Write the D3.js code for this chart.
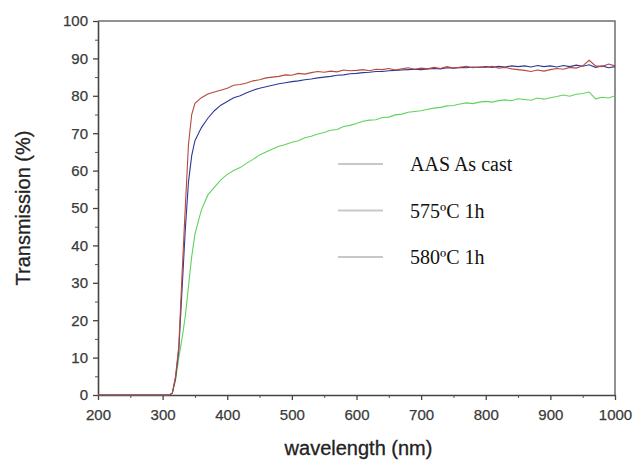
<!DOCTYPE html>
<html>
<head>
<meta charset="utf-8">
<script src="https://cdn.jsdelivr.net/npm/d3@7"></script>
<style>
  body { margin: 0; background: #fff; }
  svg { display: block; }
  .tick text { font-family: "Liberation Sans", Arial, sans-serif; font-size: 15px; fill: #3a3a3a; stroke: #3a3a3a; stroke-width: 0.25px; }
</style>
</head>
<body>
<svg id="chart" width="638" height="466"></svg>
<script>
// Wavelength grid (nm)
var wavelength = [200, 300, 310, 315, 320, 325, 330, 335, 340, 345, 350,
  360, 370, 380, 390, 400, 410, 420, 430, 440, 450, 460, 470, 480, 490,
  500, 510, 520, 530, 540, 550, 560, 570, 580, 590, 600, 610, 620, 630, 640,
  650, 660, 670, 680, 690, 700, 710, 720, 730, 740, 750, 760, 770, 780, 790,
  800, 810, 820, 830, 840, 850, 860, 870, 880, 890, 900, 910, 920, 930, 940,
  950, 960, 970, 980, 990, 1000];

// Transmission (%)
var redSeries = [0, 0, 0, 0.5, 5, 13, 32, 50, 67, 75, 78,
  79.5, 80.5, 81, 81.5, 82, 82.8, 83, 83.4, 84, 84.3, 84.8, 85, 85.2, 85.6,
  85.5, 86, 85.8, 86.2, 86.5, 86.3, 86.6, 86.4, 86.9, 86.7, 86.8, 87, 86.7, 87.1, 87,
  87.3, 86.9, 87.2, 87.5, 87.1, 87.4, 87.2, 87.6, 87.3, 87.8, 87.4, 87.6, 87.9, 87.5, 87.7,
  87.6, 87.9, 87.4, 87.6, 87.2, 87, 86.8, 86.5, 86.9, 86.6, 87, 87.3, 87.1, 87.6, 87.4,
  88, 89.5, 88, 87.8, 88.5, 88];

var blueSeries = [0, 0, 0, 0.5, 4.5, 12, 28, 44, 57, 64, 68,
  71.5, 74, 76, 77.5, 78.5, 79.5, 80, 80.8, 81.5, 82, 82.4, 82.8, 83.2, 83.5,
  83.8, 84, 84.3, 84.5, 84.8, 85, 85.2, 85.5, 85.6, 85.9, 86, 86.2, 86.3, 86.5, 86.5,
  86.7, 86.8, 86.9, 87, 87.1, 87, 87.2, 87.3, 87.2, 87.5, 87.4, 87.6, 87.5, 87.7, 87.6,
  87.8, 87.6, 87.9, 87.7, 88, 87.8, 88, 87.7, 88.1, 87.8, 88, 87.7, 88.1, 87.8, 88.2,
  87.9, 88.3, 87.6, 88, 87.5, 87.8];

var greenSeries = [0, 0, 0, 0.5, 4, 10, 15, 21, 29, 37, 43,
  49.5, 53.5, 55.5, 57.5, 59, 60, 60.8, 62, 63, 64.2, 65, 65.8, 66.5, 67,
  67.6, 68, 68.8, 69.2, 69.8, 70.2, 70.8, 71, 71.8, 72.1, 72.6, 73.2, 73.5, 73.6, 74.2,
  74.3, 74.9, 75.1, 75.6, 75.8, 76, 76.4, 76.7, 76.9, 77.3, 77.4, 77.8, 78.1, 77.9, 78.3,
  78.5, 78.3, 78.7, 78.9, 78.7, 79.2, 79, 78.8, 79.4, 79.1, 79.5, 79.8, 80.2, 79.9, 80.4,
  80.6, 81, 79.2, 79.6, 79.4, 80];

var seriesColors = ["#b8483c", "#2c3a96", "#5fd35f"];
var legendLabels = ["AAS As cast", "575ºC 1h", "580ºC 1h"];
var xTicks = [200, 300, 400, 500, 600, 700, 800, 900, 1000];
var yTicks = [0, 10, 20, 30, 40, 50, 60, 70, 80, 90, 100];

var margin = {top: 21, right: 23, bottom: 71, left: 98},
    width = 638 - margin.left - margin.right,
    height = 466 - margin.top - margin.bottom;

var svg = d3.select("#chart");
var g = svg.append("g")
    .attr("transform", "translate(" + margin.left + "," + margin.top + ")");

var x = d3.scaleLinear().domain([200, 1000]).range([0, width]);
var y = d3.scaleLinear().domain([0, 100]).range([height, 0]);

// Frame (top and right)
g.append("path")
    .attr("d", "M0,0H" + width + "V" + height)
    .attr("fill", "none")
    .attr("stroke", "#6e6e6e")
    .attr("stroke-width", 1.5);

// Minor ticks
g.append("g")
    .attr("transform", "translate(0," + height + ")")
    .call(d3.axisBottom(x).tickValues([250, 350, 450, 550, 650, 750, 850, 950]).tickSize(3).tickFormat(""))
    .call(function(a) { a.select(".domain").remove(); a.selectAll("line").attr("stroke", "#555"); });
g.append("g")
    .call(d3.axisLeft(y).tickValues([5, 15, 25, 35, 45, 55, 65, 75, 85, 95]).tickSize(3).tickFormat(""))
    .call(function(a) { a.select(".domain").remove(); a.selectAll("line").attr("stroke", "#555"); });

// Major axes
var xAxis = g.append("g")
    .attr("transform", "translate(0," + height + ")")
    .call(d3.axisBottom(x).tickValues(xTicks).tickFormat(d3.format("d"))
        .tickSize(5).tickSizeOuter(0).tickPadding(9));
var yAxis = g.append("g")
    .call(d3.axisLeft(y).tickValues(yTicks).tickFormat(d3.format("d"))
        .tickSize(5).tickSizeOuter(0).tickPadding(5));
[xAxis, yAxis].forEach(function(a) {
    a.select(".domain").attr("stroke", "#444").attr("stroke-width", 1.6);
    a.selectAll(".tick line").attr("stroke", "#444").attr("stroke-width", 1.3);
});

// Curves
var line = d3.line()
    .x(function(d) { return x(d[0]); })
    .y(function(d) { return y(d[1]); });

[greenSeries, blueSeries, redSeries].forEach(function(s, i) {
    var col = [seriesColors[2], seriesColors[1], seriesColors[0]][i];
    g.append("path")
        .datum(wavelength.map(function(w, k) { return [w, s[k]]; }))
        .attr("d", line)
        .attr("fill", "none")
        .attr("stroke", col)
        .attr("stroke-width", 1.1);
});

// Legend (pasted-over box)
var legend = svg.append("g");
legend.append("rect")
    .attr("x", 388).attr("y", 146)
    .attr("width", 205).attr("height", 132)
    .attr("fill", "#fff");
legendLabels.forEach(function(t, i) {
    var ly = 164 + i * 46.5;
    legend.append("line")
        .attr("x1", 338).attr("x2", 383)
        .attr("y1", ly).attr("y2", ly)
        .attr("stroke", "#c8c8c8").attr("stroke-width", 2);
    legend.append("text")
        .attr("x", 410).attr("y", ly + 7)
        .attr("font-family", "Liberation Serif, Times New Roman, serif")
        .attr("font-size", 20)
        .attr("fill", "#111")
        .text(t);
});

// Axis titles
svg.append("text")
    .attr("x", margin.left + width / 2 + 2).attr("y", 455)
    .attr("text-anchor", "middle")
    .attr("font-family", "Liberation Sans, Arial, sans-serif")
    .attr("font-size", 20)
    .attr("fill", "#222")
    .attr("stroke", "#222").attr("stroke-width", 0.3)
    .text("wavelength (nm)");
svg.append("text")
    .attr("transform", "translate(30," + (margin.top + height / 2) + ")rotate(-90)")
    .attr("text-anchor", "middle")
    .attr("font-family", "Liberation Sans, Arial, sans-serif")
    .attr("font-size", 20)
    .attr("fill", "#222")
    .attr("stroke", "#222").attr("stroke-width", 0.3)
    .text("Transmission (%)");
</script>
</body>
</html>
